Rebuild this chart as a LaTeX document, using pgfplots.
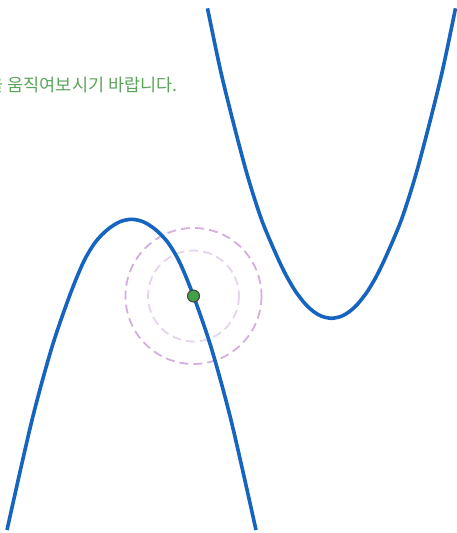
\documentclass[border=0pt]{standalone}
\usepackage{pgfplots}
\pgfplotsset{compat=1.18}
\usepackage{fontspec}
\newfontfamily\kr{Noto Sans CJK KR}
\definecolor{curveblue}{HTML}{1565C0}
\definecolor{ptgreen}{HTML}{43A047}
\definecolor{txtgreen}{HTML}{5BA55B}
\definecolor{ringout}{HTML}{D3AEDF}
\definecolor{ringin}{HTML}{E6D3EC}

\begin{document}
\begin{tikzpicture}
\begin{axis}[
    scale only axis,
    width=456pt, height=533pt,
    xmin=0, xmax=456, ymin=0, ymax=533,
    y dir=reverse,
    hide axis,
    clip=false,
]

% dashed rings around the point
\draw[ringout, line width=1.8pt, dash pattern=on 9pt off 5pt] (axis cs:193.5,296) circle[radius=68];
\draw[ringin, line width=1.8pt, dash pattern=on 9pt off 5pt] (axis cs:193.5,296) circle[radius=45.5];

% lower branch
\addplot[curveblue, line width=3.6pt, smooth] coordinates {
    (7,530) (31.5,422.1) (51.5,348.6) (69.5,296) (83.5,262)
    (95.5,242) (107.5,229.6) (119.5,221.9) (131.5,219.3)
    (143.5,221.9) (155.5,229.6) (167.5,242) (179.5,262)
    (193.5,296) (211.5,348.6) (231.5,422.1) (256,530)
};

% upper branch
\addplot[curveblue, line width=3.6pt, smooth] coordinates {
    (207.5,8.3) (220.5,70.4) (233.5,123.3) (247.5,175.8) (261.5,219.5)
    (275.5,253) (285.5,274.2) (295.5,291.3) (305.5,304.2) (314,311.9)
    (321.5,316.2) (331.5,318.3) (341.5,316.2) (349,311.9) (357.5,304.2)
    (367.5,291.3) (377.5,274.2) (387.5,253) (401.5,219.5) (415.5,175.8)
    (429.5,123.3) (442.5,70.4) (455.5,8.3)
};

% the point
\addplot[only marks, mark=*, mark size=6pt,
    mark options={fill=ptgreen, draw=black!75, line width=1pt}] coordinates {
    (193.5,296)
};

\node[anchor=base east, text=txtgreen, font=\kr\fontsize{17.5pt}{21pt}\selectfont]
    at (axis cs:181,91) {점을 움직여보시기 바랍니다.};
\end{axis}
\pgfresetboundingbox
\path (0,0) rectangle (456pt,533pt);
\end{tikzpicture}
\end{document}
